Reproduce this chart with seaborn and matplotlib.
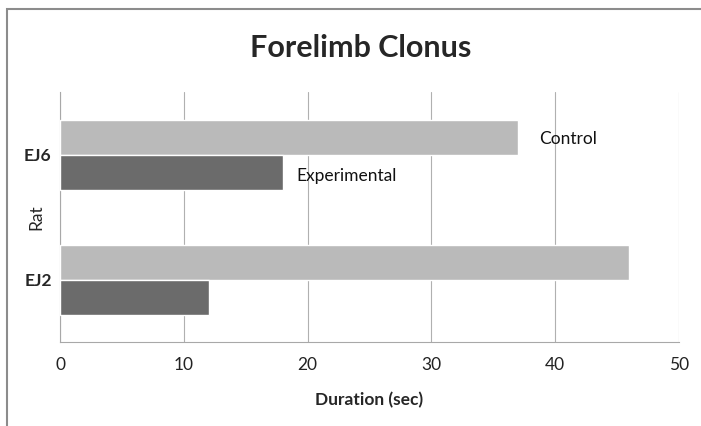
import pandas as pd
import matplotlib
matplotlib.use("Agg")
import matplotlib.pyplot as plt
from matplotlib.patches import Rectangle
import seaborn as sns

# data
rats = ["EJ6", "EJ6", "EJ2", "EJ2"]
groups = ["Control", "Experimental", "Control", "Experimental"]
durations = [37, 18, 46, 12]
x_ticks = [0, 10, 20, 30, 40, 50]

df = pd.DataFrame({"Rat": rats, "Group": groups, "Duration": durations})

sns.set_style("white")
plt.rcParams["font.family"] = ["Lato", "DejaVu Sans"]

fig = plt.figure(figsize=(7.01, 4.26), dpi=100)
ax = fig.add_axes([60 / 701, 84 / 426, 619 / 701, 250 / 426])

sns.barplot(data=df, x="Duration", y="Rat", hue="Group", order=["EJ6", "EJ2"],
            hue_order=["Control", "Experimental"], orient="h",
            palette={"Control": "#bababa", "Experimental": "#6b6b6b"},
            width=0.56, gap=0, dodge=True, saturation=1, errorbar=None,
            ax=ax, legend=False, zorder=3)

ax.set_xlim(0, 50)
ax.set_ylim(1.5, -0.5)
ax.set_xticks(x_ticks)
ax.set_xticklabels([str(t) for t in x_ticks], fontsize=12.5, color="#222222")
ax.tick_params(axis="x", length=4.5, color="#a8a8a8", width=0.8, pad=6, direction="out")
ax.tick_params(axis="y", length=0, pad=6)
for lab in ax.get_yticklabels():
    lab.set_fontweight("bold")
    lab.set_fontsize(12.5)

ax.grid(axis="x", color="#b0b0b0", linewidth=0.8, zorder=0)
ax.set_axisbelow(True)
for side in ["top", "right"]:
    ax.spines[side].set_visible(False)
ax.spines["bottom"].set_color("#a8a8a8")
ax.spines["bottom"].set_linewidth(0.8)
ax.spines["left"].set_color("#a8a8a8")
ax.spines["left"].set_linewidth(0.8)

ax.set_xlabel("Duration (sec)", fontsize=12.5, fontweight="bold")
ax.xaxis.set_label_coords(0.5, -0.2)
ax.set_ylabel("Rat", fontsize=12.5)
ax.yaxis.set_label_coords(-0.026, 0.5)

# series name labels next to the EJ6 bars
ej6 = df[df["Rat"] == "EJ6"]
offsets = {"Control": (-0.12, 15), "Experimental": (0.17, 10)}
for _, row in ej6.iterrows():
    dy, dx = offsets[row["Group"]]
    ax.annotate(row["Group"], xy=(row["Duration"], dy), xytext=(dx, 0),
                textcoords="offset points", va="center", ha="left",
                fontsize=12.5, color="#111111")

fig.text(361 / 701, 1 - 48 / 426, "Forelimb Clonus", ha="center", va="center",
         fontsize=22, fontweight="bold")

# chart frame, cut off at the right and bottom like the source image
fig.patches.append(Rectangle((7 / 701, -0.1), 1.2, 1 - 9 / 426 + 0.1,
                             transform=fig.transFigure, fill=False,
                             edgecolor="#8c8c8c", linewidth=1.5))

fig.savefig("out.png", dpi=100)
